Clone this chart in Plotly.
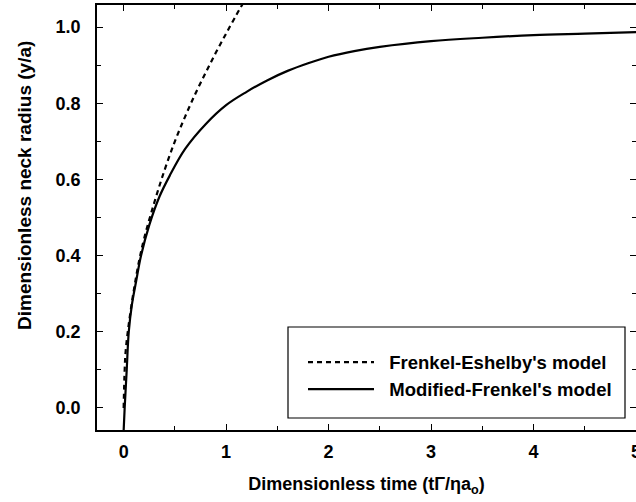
import plotly.graph_objects as go

# Frenkel-Eshelby's model (dashed)
fe_t = [0.0, 0.01, 0.02, 0.05, 0.1, 0.15, 0.2, 0.3, 0.4, 0.5, 0.6, 0.7, 0.8, 0.9, 1.0, 1.1, 1.16]
fe_y = [0.0, 0.10, 0.15, 0.22, 0.31, 0.385, 0.445, 0.54, 0.625, 0.70, 0.765, 0.825, 0.88, 0.933, 0.983, 1.032, 1.06]

# Modified-Frenkel's model (solid)
mf_t = [0.0, 0.01, 0.03, 0.05, 0.08, 0.12, 0.17, 0.25, 0.35, 0.45, 0.6, 0.8, 1.0, 1.2, 1.4,
        1.6, 1.8, 2.0, 2.25, 2.5, 3.0, 3.5, 4.0, 4.5, 5.0]
mf_y = [-0.06, 0.0, 0.1, 0.2, 0.27, 0.33, 0.40, 0.48, 0.555, 0.61, 0.68, 0.745, 0.795, 0.83, 0.86,
        0.885, 0.905, 0.922, 0.937, 0.948, 0.963, 0.972, 0.979, 0.983, 0.987]

x_ticks = [0, 1, 2, 3, 4, 5]
y_ticks = [0.0, 0.2, 0.4, 0.6, 0.8, 1.0]
y_tick_labels = ["0.0", "0.2", "0.4", "0.6", "0.8", "1.0"]

FAM = "Liberation Sans, Arial, Helvetica, sans-serif"
tick_font = dict(family=FAM, size=18, color="black")
title_font = dict(family=FAM, size=18, color="black")
ytitle_font = dict(family=FAM, size=19, color="black")
legend_font = dict(family=FAM, size=18.5, color="black")

NB = "\u00a0\u00a0"

fig = go.Figure()
fig.add_trace(go.Scatter(x=fe_t, y=fe_y, mode="lines", name=NB + "<b>Frenkel-Eshelby's model</b>",
                         line=dict(color="black", width=2.2, dash="5px,4px"), line_shape="spline"))
fig.add_trace(go.Scatter(x=mf_t, y=mf_y, mode="lines", name=NB + "<b>Modified-Frenkel's model</b>",
                         line=dict(color="black", width=2.2), line_shape="spline"))

axis_common = dict(showline=True, linecolor="black", linewidth=1.6, mirror="ticks",
                   ticks="inside", ticklen=6, tickwidth=1.3, tickcolor="black",
                   showgrid=False, zeroline=False, tickfont=tick_font, ticklabeloverflow="allow",
                   automargin=False)

fig.update_xaxes(range=[-0.26, 5.0], tickvals=x_ticks, ticktext=[f"<b>{v}</b>" for v in x_ticks],
                 minor=dict(dtick=0.5, tick0=0, ticks="inside", ticklen=4, tickcolor="black", tickwidth=1.2),
                 title=dict(text="<b>Dimensionless time (tΓ/ηa<sub>o</sub>)</b>", font=title_font, standoff=16),
                 ticklabelstandoff=5,
                 **axis_common)
fig.update_yaxes(range=[-0.058, 1.058], tickvals=y_ticks, ticktext=[f"<b>{v}</b>" for v in y_tick_labels],
                 minor=dict(dtick=0.1, tick0=0, ticks="inside", ticklen=4, tickcolor="black", tickwidth=1.2),
                 ticklabelstandoff=11,
                 **axis_common)

# y-axis title (placed above plot centre, as in the reference)
fig.add_annotation(text="<b>Dimensionless neck radius (y/a)</b>", xref="paper", yref="paper",
                   x=(24 - 97) / 539, y=(430 - 186) / 425, xanchor="center", yanchor="middle",
                   textangle=-90, showarrow=False, font=ytitle_font)

fig.add_shape(type="rect", xref="paper", yref="paper",
              x0=(288 - 97) / 539, x1=(625 - 97) / 539, y0=(430 - 418) / 425, y1=(430 - 327) / 425,
              line=dict(color="black", width=1.2), fillcolor="rgba(0,0,0,0)")

fig.update_layout(
    width=636, height=502,
    margin=dict(l=97, r=0, t=5, b=72),
    paper_bgcolor="white", plot_bgcolor="white",
    font=tick_font,
    showlegend=True,
    legend=dict(x=(303 - 97) / 539, y=(430 - 376) / 425, xanchor="left", yanchor="middle",
                bgcolor="rgba(0,0,0,0)", borderwidth=0, font=legend_font, itemwidth=66,
                tracegroupgap=0),
)

fig.write_html("out.html")
